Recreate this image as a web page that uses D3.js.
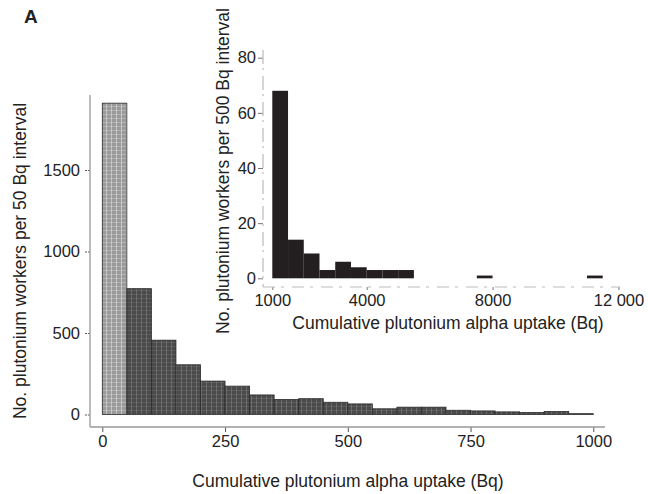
<!DOCTYPE html>
<html>
<head>
<meta charset="utf-8">
<script src="https://cdn.jsdelivr.net/npm/d3@7"></script>
<style>
  body { margin: 0; background: #fff; }
  svg { display: block; }
  text { font-family: "Liberation Sans", Arial, Helvetica, sans-serif; fill: #222; }
</style>
</head>
<body>
<svg width="648" height="494"></svg>
<script>
// main histogram: 50 Bq bins from 0 to 1000
var mainBinStart = [0, 50, 100, 150, 200, 250, 300, 350, 400, 450,
                    500, 550, 600, 650, 700, 750, 800, 850, 900, 950];
var mainCounts = [1910, 772, 456, 305, 205, 174, 120, 92, 97, 75,
                  65, 35, 45, 45, 26, 22, 16, 12, 18, 5];
var mainXTicks = [0, 250, 500, 750, 1000];
var mainYTicks = [0, 500, 1000, 1500];

// inset histogram: 500 Bq bins above 1000 Bq
var insetBinStart = [1000, 1500, 2000, 2500, 3000, 3500, 4000, 4500, 5000, 7500, 11000];
var insetCounts = [68, 14, 9, 3, 6, 4, 3, 3, 3, 1, 1];
var insetXTicks = [1000, 4000, 8000, 12000];
var insetXLabels = ["1000", "4000", "8000", "12 000"];
var insetYTicks = [0, 20, 40, 60, 80];

var svg = d3.select("svg");

// grainy fills, a bit like the scanned halftone
var defs = svg.append("defs");
function grain(id, base, fleck, op) {
  var p = defs.append("pattern").attr("id", id)
      .attr("patternUnits", "userSpaceOnUse").attr("width", 5).attr("height", 4);
  p.append("rect").attr("width", 5).attr("height", 4).attr("fill", base);
  p.append("rect").attr("x", 1).attr("y", 0).attr("width", 1).attr("height", 4)
      .attr("fill", fleck).attr("opacity", op);
  p.append("rect").attr("x", 0).attr("y", 2).attr("width", 5).attr("height", 1)
      .attr("fill", fleck).attr("opacity", op * 0.6);
}
grain("g1", "#9a9a9a", "#e6e6e6", 0.55);
grain("g2", "#4a4a4a", "#8a8a8a", 0.5);

var x = d3.scaleLinear().domain([0, 1000]).range([102.3, 593.3]);
var y = d3.scaleLinear().domain([0, 1500]).range([414.5, 170]);

svg.append("text")
    .attr("x", 24).attr("y", 23)
    .style("font-size", "19px").style("font-weight", "bold")
    .text("A");

// main bars
svg.append("g")
  .selectAll("rect")
  .data(mainCounts)
  .enter().append("rect")
    .attr("x", (d, i) => x(mainBinStart[i]))
    .attr("width", (d, i) => x(mainBinStart[i] + 50) - x(mainBinStart[i]))
    .attr("y", d => y(d))
    .attr("height", d => y(0) - y(d))
    .attr("fill", (d, i) => i === 0 ? "url(#g1)" : "url(#g2)")
    .attr("stroke", "#2a2a2a")
    .attr("stroke-width", 0.8);

// main axes
var xAxis = svg.append("g")
    .attr("transform", "translate(0,427)")
    .call(d3.axisBottom(x).tickValues(mainXTicks).tickSize(5).tickPadding(3).tickFormat(d3.format("d")));
var yAxis = svg.append("g")
    .attr("transform", "translate(90,0)")
    .call(d3.axisLeft(y).tickValues(mainYTicks).tickSize(6).tickPadding(4).tickFormat(d3.format("d")));
[xAxis, yAxis].forEach(a => {
  a.select(".domain").remove();
  a.selectAll("text").style("font-size", "16.5px").attr("fill", "#222");
  a.selectAll(".tick line").attr("stroke", "#555");
});
yAxis.selectAll(".tick line").attr("stroke-dasharray", "2,1");
svg.append("line").attr("x1", 90).attr("x2", 605).attr("y1", 427).attr("y2", 427)
    .attr("stroke", "#999").attr("stroke-width", 1.6);
svg.append("line").attr("x1", 90).attr("x2", 90).attr("y1", 95).attr("y2", 427)
    .attr("stroke", "#aaa").attr("stroke-width", 1.6);

svg.append("text")
    .attr("x", 348).attr("y", 487)
    .attr("text-anchor", "middle")
    .style("font-size", "17.5px")
    .text("Cumulative plutonium alpha uptake (Bq)");
svg.append("text")
    .attr("transform", "translate(26,261) rotate(-90)")
    .attr("text-anchor", "middle")
    .style("font-size", "17.5px")
    .text("No. plutonium workers per 50 Bq interval");

// inset
var ix = d3.scaleLinear().domain([1000, 4000]).range([272.3, 366.7]);
var iy = d3.scaleLinear().domain([0, 80]).range([278.3, 57.7]);

svg.append("g")
  .selectAll("rect")
  .data(insetCounts)
  .enter().append("rect")
    .attr("x", (d, i) => ix(insetBinStart[i]))
    .attr("width", (d, i) => ix(insetBinStart[i] + 500) - ix(insetBinStart[i]))
    .attr("y", d => iy(d))
    .attr("height", d => iy(0) - iy(d))
    .attr("fill", "#231f20");

var ixAxis = svg.append("g")
    .attr("transform", "translate(0,287)")
    .call(d3.axisBottom(ix).tickValues(insetXTicks).tickSize(3).tickPadding(4)
      .tickFormat((d, i) => insetXLabels[i]));
var iyAxis = svg.append("g")
    .attr("transform", "translate(263,0)")
    .call(d3.axisLeft(iy).tickValues(insetYTicks).tickSize(5).tickPadding(2).tickFormat(d3.format("d")));
[ixAxis, iyAxis].forEach(a => {
  a.select(".domain").remove();
  a.selectAll("text").style("font-size", "16.5px").attr("fill", "#222");
  a.selectAll(".tick line").attr("stroke", "#777");
});
svg.append("line").attr("x1", 263).attr("x2", 620).attr("y1", 287).attr("y2", 287)
    .attr("stroke", "#bbb").attr("stroke-width", 1).attr("stroke-dasharray", "12,6,3,8");
svg.append("line").attr("x1", 263).attr("x2", 263).attr("y1", 50).attr("y2", 287)
    .attr("stroke", "#bbb").attr("stroke-width", 1.2).attr("stroke-dasharray", "14,4,2,6");

svg.append("text")
    .attr("x", 448).attr("y", 329)
    .attr("text-anchor", "middle")
    .style("font-size", "17.5px")
    .text("Cumulative plutonium alpha uptake (Bq)");
svg.append("text")
    .attr("transform", "translate(229,171) rotate(-90)")
    .attr("text-anchor", "middle")
    .style("font-size", "17.5px")
    .text("No. plutonium workers per 500 Bq interval");
</script>
</body>
</html>
